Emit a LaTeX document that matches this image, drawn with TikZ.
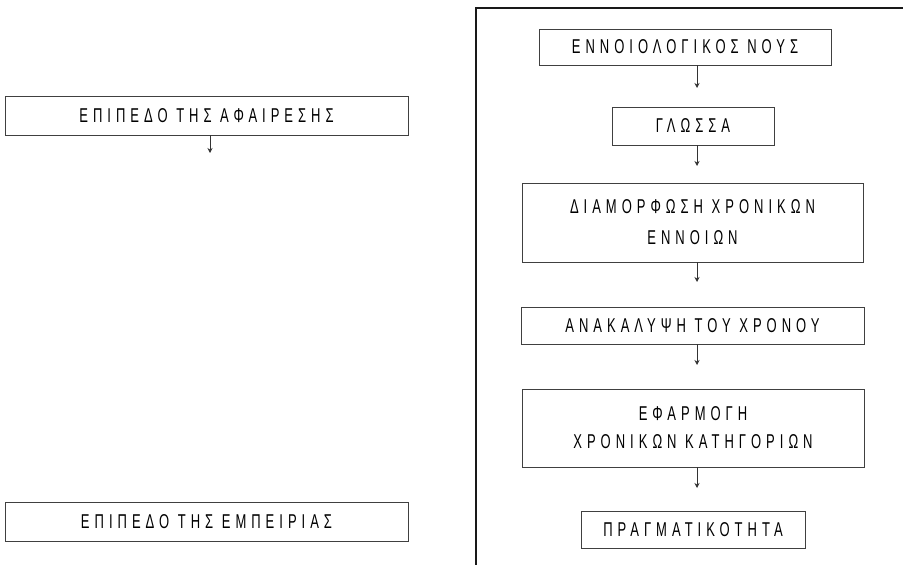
\documentclass[tikz,border=0pt]{standalone}
\usepackage{fontspec}
\newfontfamily\lblfont[FakeStretch=0.65,LetterSpace=25]{Liberation Sans}
\usetikzlibrary{arrows.meta}
\begin{document}
\begin{tikzpicture}[x=1pt,y=-1pt,
  box/.style={draw=black!75, line width=0.9pt, text=black,
    font=\lblfont\fontsize{20}{30}\selectfont, inner sep=0pt, align=center},
  arr/.style={draw=black!80, line width=0.7pt, -{Stealth[length=5pt,width=5pt]}},
  frame/.style={draw=black!90, line width=2.5pt}]
\useasboundingbox (0,0) rectangle (903,565);

% left column: the two levels
\node[box, minimum width=403pt, minimum height=39pt] (abs) at (206.5,115.5) {ΕΠΙΠΕΔΟ ΤΗΣ ΑΦΑΙΡΕΣΗΣ};
\node[box, minimum width=403pt, minimum height=39pt] (emp) at (206.5,521.5) {ΕΠΙΠΕΔΟ ΤΗΣ ΕΜΠΕΙΡΙΑΣ};
\coordinate (absend) at (210,153);
\draw[arr] (absend |- abs.south) -- (absend);

% right column: enclosing frame
\draw[frame] (903,8) -- (476,8) -- (476,565);

% right column: chain of stages
\node[box, minimum width=292pt, minimum height=36pt] (nous) at (685,47) {ΕΝΝΟΙΟΛΟΓΙΚΟΣ ΝΟΥΣ};
\node[box, minimum width=162pt, minimum height=38pt] (gl) at (693,126) {ΓΛΩΣΣΑ};
\node[box, minimum width=341pt, minimum height=79pt] (diam) at (692.5,222.5) {ΔΙΑΜΟΡΦΩΣΗ ΧΡΟΝΙΚΩΝ\\[1pt]ΕΝΝΟΙΩΝ};
\node[box, minimum width=343pt, minimum height=37pt] (anak) at (692.5,325.5) {ΑΝΑΚΑΛΥΨΗ ΤΟΥ ΧΡΟΝΟΥ};
\node[box, minimum width=342pt, minimum height=78pt] (efar) at (693,428) {ΕΦΑΡΜΟΓΗ\\[-2pt]ΧΡΟΝΙΚΩΝ ΚΑΤΗΓΟΡΙΩΝ};
\node[box, minimum width=224pt, minimum height=37pt] (pragm) at (693,529.5) {ΠΡΑΓΜΑΤΙΚΟΤΗΤΑ};

\coordinate (e1) at (697,88);
\coordinate (e2) at (697,166);
\coordinate (e3) at (697,282);
\coordinate (e4) at (697,365);
\coordinate (e5) at (697,488);
\draw[arr] (e1 |- nous.south) -- (e1);
\draw[arr] (e2 |- gl.south) -- (e2);
\draw[arr] (e3 |- diam.south) -- (e3);
\draw[arr] (e4 |- anak.south) -- (e4);
\draw[arr] (e5 |- efar.south) -- (e5);
\end{tikzpicture}
\end{document}
